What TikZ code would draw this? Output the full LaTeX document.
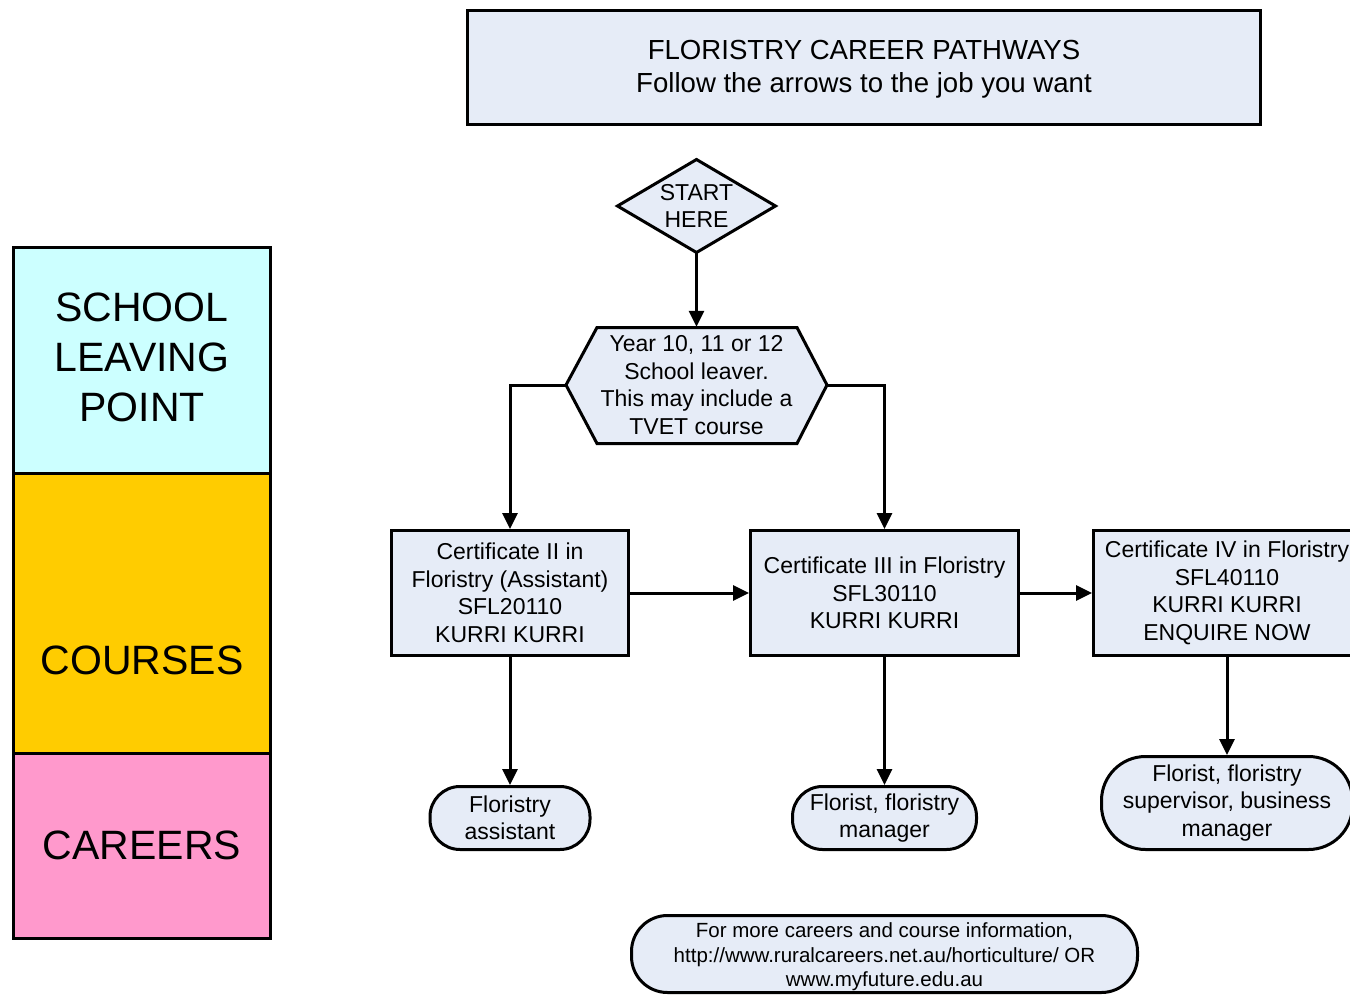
\documentclass[tikz,border=0pt]{standalone}
\usepackage{fontspec}
\setmainfont{Liberation Sans}
\usetikzlibrary{shapes.geometric,arrows.meta}
\definecolor{boxfill}{RGB}{230,236,247}
\definecolor{colcyan}{RGB}{204,255,255}
\definecolor{colyellow}{RGB}{255,204,0}
\definecolor{colpink}{RGB}{255,153,204}
\tikzset{
  flowbox/.style={draw=black, fill=boxfill, line width=3pt, inner sep=0pt, align=center,
    font=\fontsize{23}{27.5}\selectfont},
  careerbox/.style={flowbox, rounded corners=30pt},
  colbox/.style={draw=black, line width=3pt, inner sep=0pt, minimum width=257pt},
  coltext/.style={align=center, inner sep=0pt, font=\fontsize{41}{50}\selectfont},
  plaintext/.style={inner sep=0pt, align=center, font=\fontsize{23}{27.5}\selectfont},
  arr/.style={draw=black, line width=3pt, -{Triangle[length=16pt,width=15pt]}},
}
\begin{document}
\begin{tikzpicture}[x=1pt,y=-1pt]
\useasboundingbox (0,0) rectangle (1350,995);

% left column
\node[colbox, fill=colcyan, minimum height=225.5pt] (slpbox) at (142,360.25) {};
\node[colbox, fill=colyellow, minimum height=280pt] (crsbox) at (142,613) {};
\node[colbox, fill=colpink, minimum height=185.5pt] (carbox) at (142,845.75) {};
\node[coltext] (slptext) at (142,357) {SCHOOL\\LEAVING\\POINT};
\node[coltext] (crstext) at (142,660) {COURSES};
\node[coltext] (cartext) at (142,845) {CAREERS};

% title
\node[flowbox, minimum width=793pt, minimum height=114pt] (title) at (864,67.5) {};
\node[inner sep=0pt, align=center, font=\fontsize{27.6}{33}\selectfont] (titletext) at (864,69.5)
  {FLORISTRY CAREER PATHWAYS\\Follow the arrows to the job you want};

% start diamond
\draw[fill=boxfill, line width=3pt, line join=miter]
  (696.5,159.5) -- (775.5,206) -- (696.5,252.5) -- (617.5,206) -- cycle;
\node[plaintext] (start) at (696.5,206) {START\\HERE};
\coordinate (startS) at (696.5,252.5);

% hexagon
\draw[fill=boxfill, line width=3pt, line join=miter]
  (597,327.5) -- (797,327.5) -- (827,385) -- (797,443.5) -- (597,443.5) -- (566,385) -- cycle;
\node[plaintext, minimum width=200pt, minimum height=116pt] (hex) at (696.5,385)
  {Year 10, 11 or 12\\School leaver.\\This may include a\\TVET course};
\coordinate (hexL) at (566,385);
\coordinate (hexR) at (827,385);

% courses
\node[flowbox, minimum width=237pt, minimum height=125pt] (cert2) at (510,593)
  {Certificate II in\\Floristry (Assistant)\\SFL20110\\KURRI KURRI};
\node[flowbox, minimum width=268pt, minimum height=125pt] (cert3) at (884.5,593)
  {Certificate III in Floristry\\SFL30110\\KURRI KURRI};
\node[flowbox, minimum width=267pt, minimum height=125pt] (cert4) at (1227,593)
  {Certificate IV in Floristry\\SFL40110\\KURRI KURRI\\ENQUIRE NOW};

% careers
\node[careerbox, minimum width=160pt, minimum height=63pt] (car1) at (510,818)
  {Floristry\\assistant};
\node[careerbox, minimum width=184pt, minimum height=63pt] (car2) at (884.5,818)
  {Florist, floristry\\manager};
\node[careerbox, rounded corners=44pt, minimum width=251pt, minimum height=93pt] (car3) at (1227,803)
  {Florist, floristry\\supervisor, business\\manager};

% footer
\node[careerbox, rounded corners=36pt, minimum width=506pt, minimum height=77pt] (info) at (884.5,954) {};
\node[inner sep=0pt, align=center, font=\fontsize{20.5}{24.5}\selectfont] (infotext) at (884.5,957)
  {For more careers and course information,\\http://www.ruralcareers.net.au/horticulture/ OR\\www.myfuture.edu.au};

% connectors
\draw[arr] (startS) -- (hex.north);
\draw[arr] (hexL) -| (cert2.north);
\draw[arr] (hexR) -| (cert3.north);
\draw[arr] (cert2.east) -- (cert3.west);
\draw[arr] (cert3.east) -- (cert4.west);
\draw[arr] (cert2.south) -- (car1.north);
\draw[arr] (cert3.south) -- (car2.north);
\draw[arr] (cert4.south) -- (car3.north);
\end{tikzpicture}
\end{document}
